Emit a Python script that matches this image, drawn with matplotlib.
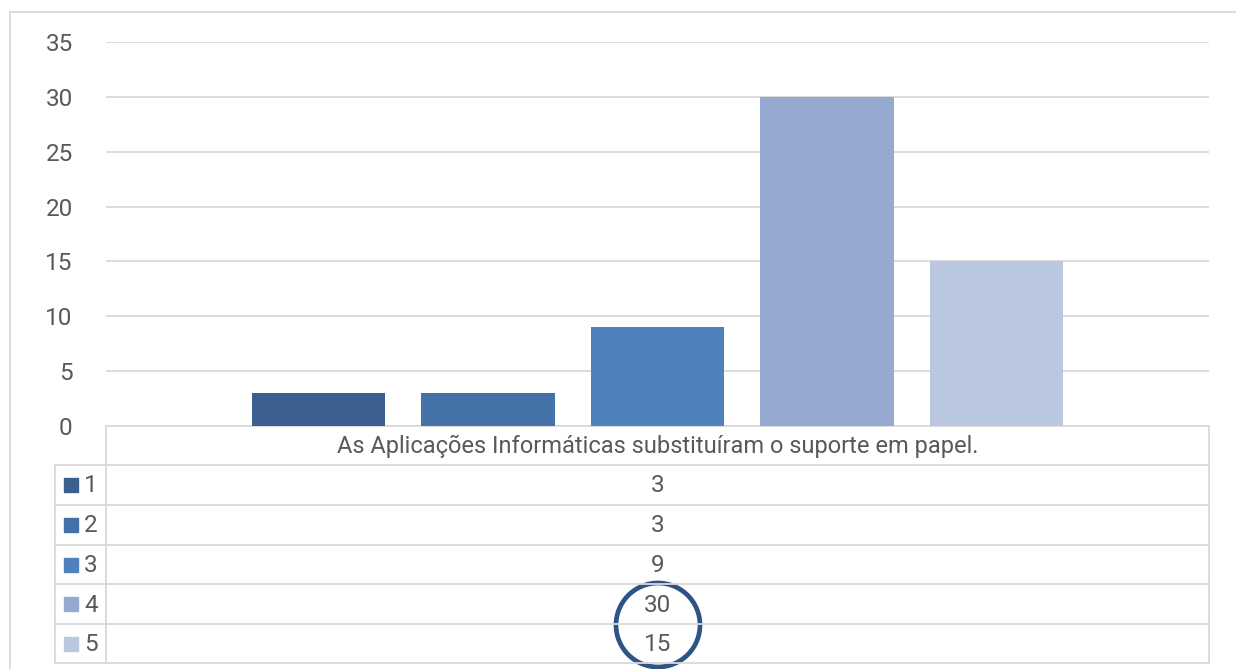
import matplotlib
matplotlib.use("Agg")
import matplotlib.pyplot as plt
from matplotlib.patches import Circle, Rectangle

# Survey answers (Likert scale 1-5) for a single statement
category = "As Aplicações Informáticas substituíram o suporte em papel."
levels = ["1", "2", "3", "4", "5"]
counts = [3, 3, 9, 30, 15]
colors = ["#3B5F8E", "#4471A8", "#4F81BD", "#95A9D1", "#B9C7E1"]
yticks = [0, 5, 10, 15, 20, 25, 30, 35]

plt.rcParams["font.family"] = ["Liberation Sans Narrow", "Roboto", "DejaVu Sans"]
TEXT = "#595959"
GRID = "#D9D9D9"

W, H = 1236, 669
fig = plt.figure(figsize=(W / 100, H / 100), dpi=100)

# Overlay axes in pixel units for the frame and data table
ov = fig.add_axes([0, 0, 1, 1])
ov.set_xlim(0, W)
ov.set_ylim(H, 0)
ov.axis("off")

# Bar chart area
left, right, top, base = 106, 1209, 42, 426
ax = fig.add_axes([left / W, (H - base) / H, (right - left) / W, (base - top) / H])
ax.set_zorder(2)
ax.patch.set_alpha(0)
x = list(range(len(counts)))
ax.bar(x, counts, width=0.79, color=colors, zorder=3)
ax.set_xlim(-1.254, len(counts) - 1 + 1.254)
ax.set_ylim(0, 35)
ax.set_yticks(yticks)
ax.set_yticklabels([str(t) for t in yticks], fontsize=17.5, color=TEXT)
ax.tick_params(axis="y", length=0, pad=24)
ax.set_xticks([])
ax.grid(axis="y", color=GRID, linewidth=1.3, zorder=0)
for s in ax.spines.values():
    s.set_visible(False)

lw = 1.3
# Outer chart frame (top and left visible)
ov.plot([10, W], [12, 12], color=GRID, lw=lw)
ov.plot([10, 10], [12, H], color=GRID, lw=lw)

# Data table below the plot
rows_y = [426, 465, 505, 545, 584, 624, 663]
ov.plot([left, right], [rows_y[0], rows_y[0]], color=GRID, lw=lw)
for yy in rows_y[1:]:
    ov.plot([55, right], [yy, yy], color=GRID, lw=lw)
ov.plot([left, left], [rows_y[0], rows_y[-1]], color=GRID, lw=lw)
ov.plot([right, right], [rows_y[0], rows_y[-1]], color=GRID, lw=lw)
ov.plot([55, 55], [rows_y[1], rows_y[-1]], color=GRID, lw=lw)

cx = (left + right) / 2
ov.text(cx, (rows_y[0] + rows_y[1]) / 2 + 1, category, ha="center", va="center",
        fontsize=17, color=TEXT)
for i, (lab, val, col) in enumerate(zip(levels, counts, colors)):
    yc = (rows_y[i + 1] + rows_y[i + 2]) / 2
    ov.add_patch(Rectangle((64, yc - 7), 14, 14, color=col))
    ov.text(91, yc + 1, lab, ha="center", va="center", fontsize=17.5, color=TEXT)
    ov.text(cx, yc + 1, str(val), ha="center", va="center", fontsize=17.5, color=TEXT)

# Highlight around the two highest agreement levels
ov.add_patch(Circle((658, 625), 42, fill=False, edgecolor="#2E5486", lw=3.4))

fig.savefig("out.png", dpi=100)
